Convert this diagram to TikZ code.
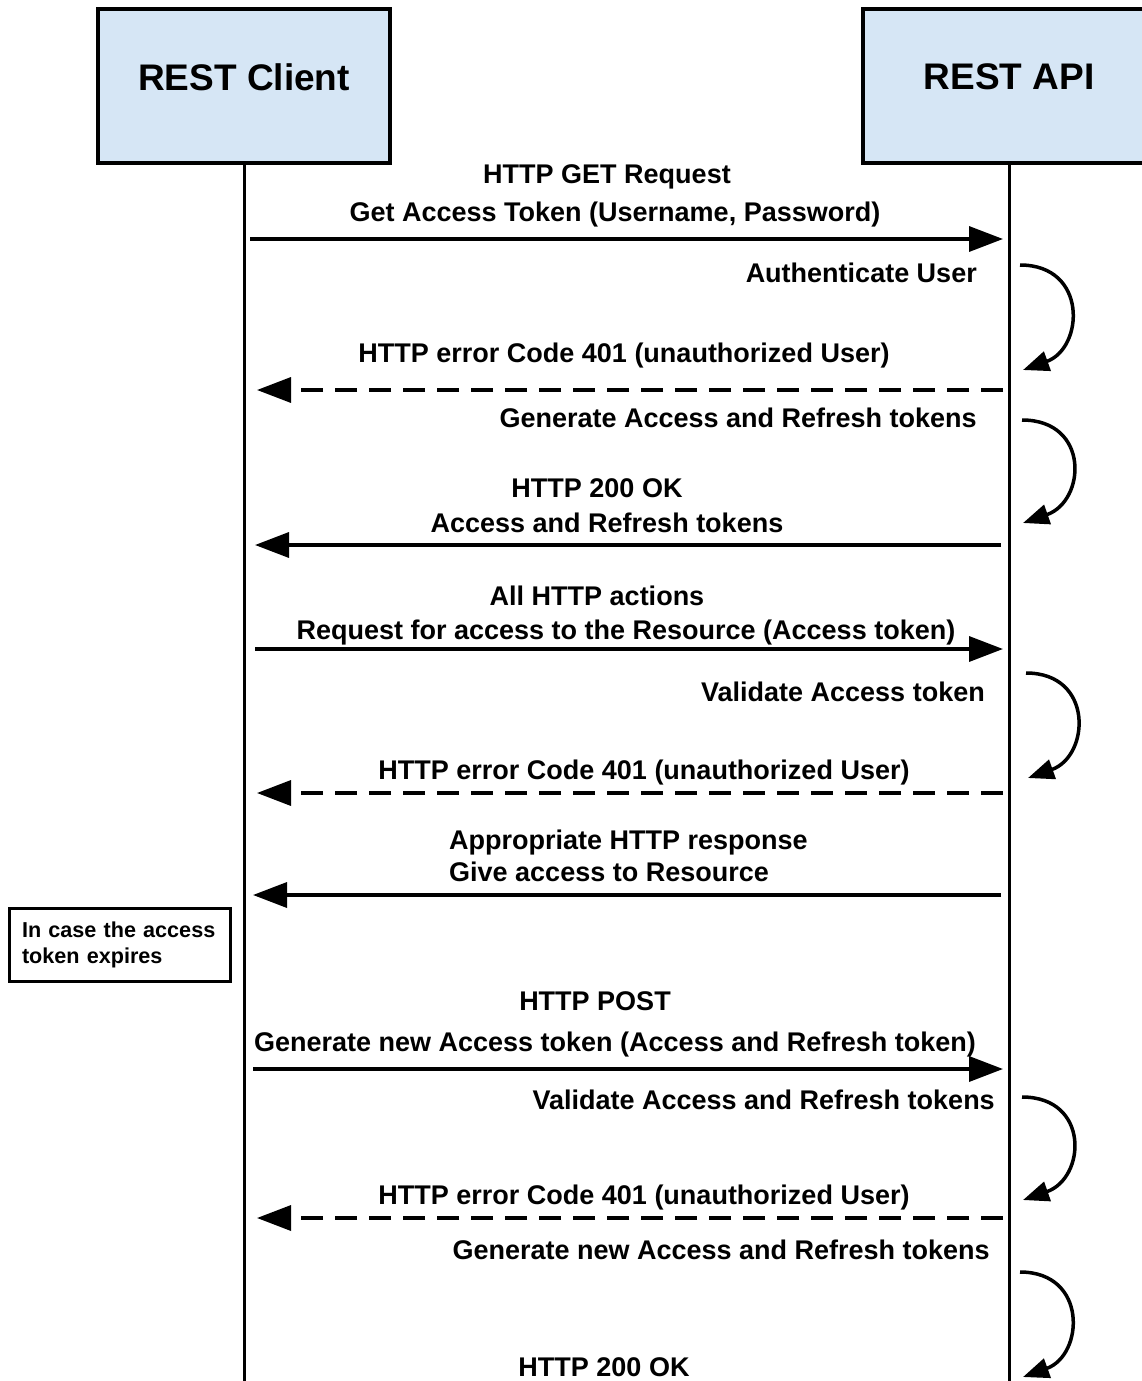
\documentclass[tikz,border=0pt]{standalone}
\usepackage{fontspec}
\setmainfont{Liberation Sans}
\usetikzlibrary{arrows.meta}
\definecolor{boxblue}{RGB}{214,230,245}
\begin{document}
\begin{tikzpicture}[x=1pt,y=-1pt,
  actor/.style={draw, line width=4pt, fill=boxblue, minimum width=292pt, minimum height=154pt,
    font=\fontsize{37}{40}\selectfont\bfseries, inner sep=0pt},
  life/.style={line width=3pt},
  lbl/.style={font=\fontsize{27}{30}\selectfont\bfseries, inner sep=0pt, anchor=base},
  lblr/.style={lbl, anchor=base east},
  lbll/.style={lbl, anchor=base west},
  msg/.style={line width=3.5pt, -{Triangle[length=34pt,width=25pt]}},
  reply/.style={msg, dash pattern=on 22pt off 12pt},
  selfmsg/.style={line width=3.5pt, -{Triangle[length=26pt,width=20pt]}},
  notebox/.style={draw, line width=3pt, minimum width=221pt, minimum height=73pt, align=left,
    text width=195pt, inner xsep=13pt, font=\fontsize{21.6}{26}\selectfont\bfseries}
]
\useasboundingbox (0,0) rectangle (1142,1381);
\clip (0,0) rectangle (1142,1381);

% actors
\node[actor] (client) at (244,86) {\raisebox{18pt}{REST Client}};
\node[actor] (api) at (1009,86) {\raisebox{18pt}{REST API}};

% lifelines
\coordinate (clend) at (244,1390);
\coordinate (apiend) at (1009,1390);
\draw[life] (client.south) -- (clend);
\draw[life] (api.south) -- (apiend);

% message end points
\coordinate (a1s) at (250,239);  \coordinate (a1e) at (1003,239);
\coordinate (a2s) at (1003,390); \coordinate (a2e) at (257,390);
\coordinate (a3s) at (1001,545); \coordinate (a3e) at (255,545);
\coordinate (a4s) at (255,649);  \coordinate (a4e) at (1003,649);
\coordinate (a5s) at (1003,793); \coordinate (a5e) at (257,793);
\coordinate (a6s) at (1001,895); \coordinate (a6e) at (253,895);
\coordinate (a7s) at (253,1069); \coordinate (a7e) at (1003,1069);
\coordinate (a8s) at (1003,1218);\coordinate (a8e) at (257,1218);

\draw[msg] (a1s) -- (a1e);
\draw[reply] (a2s) -- (a2e);
\draw[msg] (a3s) -- (a3e);
\draw[msg] (a4s) -- (a4e);
\draw[reply] (a5s) -- (a5e);
\draw[msg] (a6s) -- (a6e);
\draw[msg] (a7s) -- (a7e);
\draw[reply] (a8s) -- (a8e);

% self messages
\coordinate (s1s) at (1020,265);  \coordinate (s1e) at (1023,370);
\coordinate (s2s) at (1022,420);  \coordinate (s2e) at (1023,523);
\coordinate (s3s) at (1026,673);  \coordinate (s3e) at (1028,778);
\coordinate (s4s) at (1022,1097); \coordinate (s4e) at (1023,1200);
\coordinate (s5s) at (1020,1272); \coordinate (s5e) at (1023,1377);
\draw[selfmsg] (s1s) .. controls (1088,265) and (1084,348) .. (s1e);
\draw[selfmsg] (s2s) .. controls (1090,420) and (1086,501) .. (s2e);
\draw[selfmsg] (s3s) .. controls (1094,673) and (1090,756) .. (s3e);
\draw[selfmsg] (s4s) .. controls (1090,1097) and (1086,1178) .. (s4e);
\draw[selfmsg] (s5s) .. controls (1088,1272) and (1084,1355) .. (s5e);

% labels
\node[lbl] (l1) at (607,183) {HTTP GET Request};
\node[lbl] (l2) at (615,221) {Get Access Token (Username, Password)};
\node[lblr] (l3) at (977,282) {Authenticate User};
\node[lbl] (l4) at (624,362) {HTTP error Code 401 (unauthorized User)};
\node[lblr] (l5) at (977,427) {Generate Access and Refresh tokens};
\node[lbl] (l6) at (597,497) {HTTP 200 OK};
\node[lbl] (l7) at (607,532) {Access and Refresh tokens};
\node[lbl] (l8) at (597,605) {All HTTP actions};
\node[lbl] (l9) at (626,639) {Request for access to the Resource (Access token)};
\node[lblr] (l10) at (985,701) {Validate Access token};
\node[lbl] (l11) at (644,779) {HTTP error Code 401 (unauthorized User)};
\node[lbll] (l12) at (449,849) {Appropriate HTTP response};
\node[lbll] (l13) at (449,881) {Give access to Resource};
\node[lbl] (l14) at (595,1010) {HTTP POST};
\node[lbl] (l15) at (615,1051) {Generate new Access token (Access and Refresh token)};
\node[lblr] (l16) at (995,1109) {Validate Access and Refresh tokens};
\node[lbl] (l17) at (644,1204) {HTTP error Code 401 (unauthorized User)};
\node[lblr] (l18) at (990,1259) {Generate new Access and Refresh tokens};
\node[lbl] (l19) at (604,1376) {HTTP 200 OK};

% note
\node[notebox] (note) at (119.5,944.5) {In case the access\\token expires};
\end{tikzpicture}
\end{document}
